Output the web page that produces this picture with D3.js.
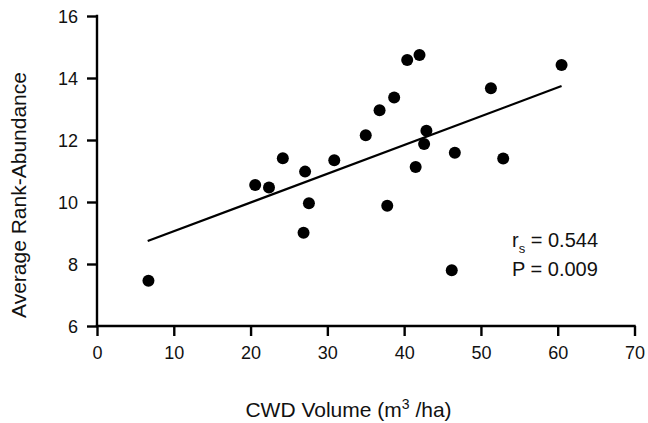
<!DOCTYPE html>
<html>
<head>
<meta charset="utf-8">
<script src="https://cdn.jsdelivr.net/npm/d3@7"></script>
<style>
  body { margin: 0; background: #fff; }
  svg { display: block; font-family: "Liberation Sans", Arial, Helvetica, sans-serif; }
</style>
</head>
<body>
<div id="chart"></div>
<script>
// CWD volume (m3/ha) for each site
const cwdVolume = [6.7, 20.6, 22.4, 24.2, 27.1, 27.6, 26.9, 30.9, 35.0, 36.8, 37.8,
  38.7, 40.4, 42.0, 42.9, 42.6, 41.5, 46.6, 46.2, 51.3, 52.9, 60.5]
// average rank-abundance for each site
const rankAbundance = [7.46, 10.55, 10.47, 11.41, 10.98, 9.96, 9.01, 11.35, 12.15, 12.96, 9.88,
  13.37, 14.58, 14.74, 12.30, 11.87, 11.13, 11.59, 7.80, 13.67, 11.40, 14.42]

// fitted line endpoints
const fitX = [6.6, 60.5]
const fitY = [8.74, 13.74]

const xTicks = [0, 10, 20, 30, 40, 50, 60, 70]
const yTicks = [6, 8, 10, 12, 14, 16]

const width = 648
const height = 423

const xScale = d3.scaleLinear().domain([0, 70]).range([97, 634.5])
const yScale = d3.scaleLinear().domain([6, 16]).range([326, 16])

const svg = d3.select('#chart')
  .append('svg')
  .attr('width', width)
  .attr('height', height)

const xAxis = d3.axisBottom(xScale).tickValues(xTicks).tickSize(10).tickPadding(10)
const yAxis = d3.axisLeft(yScale).tickValues(yTicks).tickSize(10).tickPadding(9)

const gx = svg.append('g')
  .attr('transform', `translate(0 ${yScale(6)})`)
  .call(xAxis)
const gy = svg.append('g')
  .attr('transform', `translate(${xScale(0)} 0)`)
  .call(yAxis)

// plain black axes, no end caps
for (const g of [gx, gy]) {
  g.select('.domain').remove()
  g.selectAll('.tick line').attr('stroke', '#000').attr('stroke-width', 2.4)
  g.selectAll('.tick text')
    .attr('fill', '#111')
    .attr('font-size', '18px')
    .attr('font-family', '"Liberation Sans", Arial, sans-serif')
}
gy.selectAll('.tick text').attr('dy', '0.36em')

svg.append('line')
  .attr('x1', xScale(0) - 1.2).attr('x2', xScale(70) + 1.2)
  .attr('y1', yScale(6)).attr('y2', yScale(6))
  .attr('stroke', '#000').attr('stroke-width', 2.4)
svg.append('line')
  .attr('x1', xScale(0)).attr('x2', xScale(0))
  .attr('y1', yScale(6)).attr('y2', yScale(16) - 1.2)
  .attr('stroke', '#000').attr('stroke-width', 2.4)

// regression line
svg.append('line')
  .attr('x1', xScale(fitX[0])).attr('y1', yScale(fitY[0]))
  .attr('x2', xScale(fitX[1])).attr('y2', yScale(fitY[1]))
  .attr('stroke', '#000')
  .attr('stroke-width', 2.2)

// points
svg.append('g')
  .selectAll('circle')
  .data(d3.range(cwdVolume.length))
  .join('circle')
  .attr('cx', i => xScale(cwdVolume[i]))
  .attr('cy', i => yScale(rankAbundance[i]))
  .attr('r', 6)
  .attr('fill', '#000')

// axis titles
svg.append('text')
  .attr('x', 348.5)
  .attr('y', 417)
  .attr('text-anchor', 'middle')
  .attr('font-size', '21px')
  .attr('fill', '#111')
  .call(t => {
    t.append('tspan').text('CWD Volume (m')
    t.append('tspan').attr('font-size', '14px').attr('dy', -8).text('3')
    t.append('tspan').attr('dy', 8).text(' /ha)')
  })

svg.append('text')
  .attr('transform', 'translate(26 195) rotate(-90)')
  .attr('text-anchor', 'middle')
  .attr('font-size', '21px')
  .attr('fill', '#111')
  .text('Average Rank-Abundance')

// stats annotation
svg.append('text')
  .attr('x', 512)
  .attr('y', 247)
  .attr('font-size', '20px')
  .attr('fill', '#111')
  .call(t => {
    t.append('tspan').text('r')
    t.append('tspan').attr('font-size', '13px').attr('dy', 6).text('s')
    t.append('tspan').attr('dy', -6).text(' = 0.544')
  })

svg.append('text')
  .attr('x', 512)
  .attr('y', 276)
  .attr('font-size', '20px')
  .attr('fill', '#111')
  .text('P = 0.009')
</script>
</body>
</html>
